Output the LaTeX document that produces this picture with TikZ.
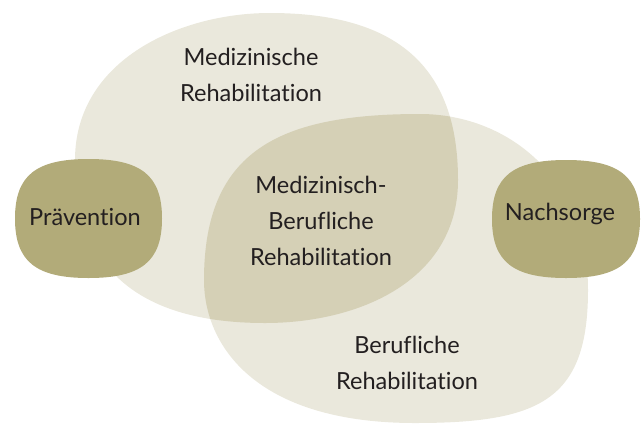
\documentclass[tikz,border=0pt]{standalone}
\usepackage{fontspec}
\setmainfont{Lato}[Ligatures=NoCommon]
\usepackage{tikz}
\definecolor{blobhell}{HTML}{EAE8DC}
\definecolor{blobmitte}{HTML}{D5D0B6}
\definecolor{oliv}{HTML}{B2AB79}
\definecolor{schrift}{HTML}{231F20}
\newcommand{\medblob}[1]{
\path[#1] (270,13) .. controls (395,13) and (458,65) .. (458,180)
 .. controls (458,280) and (360,323) .. (265,323)
 .. controls (160,323) and (75,285) .. (75,160)
 .. controls (75,60) and (180,13) .. (270,13) -- cycle;
}
\newcommand{\berblob}[1]{
\path[#1] (420,114) .. controls (505,114) and (588,175) .. (588,290)
 .. controls (588,400) and (540,423) .. (415,423)
 .. controls (255,423) and (204,345) .. (204,280)
 .. controls (204,150) and (280,114) .. (420,114) -- cycle;
}
% #1,#2 mitte, #3,#4 halbe breite/hoehe
\newcommand{\squircle}[4]{
\fill[oliv] (#1,#2-#4) .. controls (#1+.72*#3,#2-#4) and (#1+#3,#2-.72*#4) .. (#1+#3,#2)
 .. controls (#1+#3,#2+.72*#4) and (#1+.72*#3,#2+#4) .. (#1,#2+#4)
 .. controls (#1-.72*#3,#2+#4) and (#1-#3,#2+.72*#4) .. (#1-#3,#2)
 .. controls (#1-#3,#2-.72*#4) and (#1-.72*#3,#2-#4) .. (#1,#2-#4) -- cycle;
}

\begin{document}
\begin{tikzpicture}[x=0.02cm,y=-0.02cm,
  label/.style={align=center,text=schrift,font=\fontsize{13.4}{20.4}\selectfont}]
\useasboundingbox (0,0) rectangle (641,423);
\medblob{fill=blobhell}
\berblob{fill=blobhell}
\begin{scope}
\medblob{clip}
\berblob{fill=blobmitte}
\end{scope}
\squircle{88.5}{218.5}{73.5}{59.5}
\squircle{566}{219}{74}{59}
\node[label] (med) at (251,75) {Medizinische\\Rehabilitation};
\node[label] (mix) at (321,221) {Medizinisch-\\Berufliche\\Rehabilitation};
\node[label] (ber) at (407,363) {Berufliche\\Rehabilitation};
\node[label] (prae) at (85,217) {Prävention};
\node[label] (nach) at (560,214) {Nachsorge};
\end{tikzpicture}
\end{document}
